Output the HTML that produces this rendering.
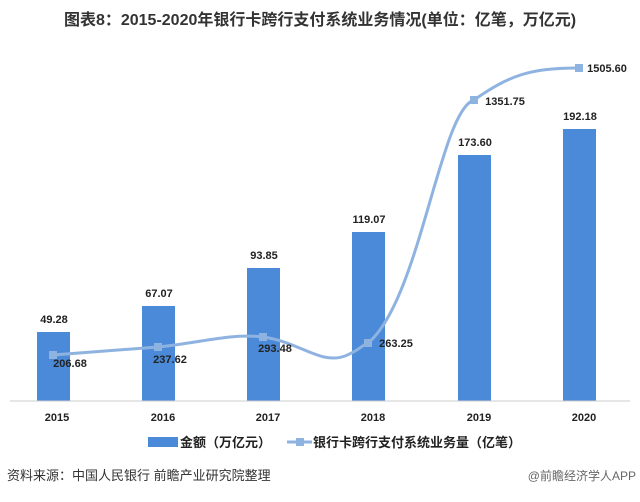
<!DOCTYPE html>
<html><head><meta charset="utf-8"><style>
body{margin:0;background:#fff;}
svg text{font-family:"Liberation Sans","Noto Sans CJK SC",sans-serif;}
</style></head><body>
<svg width="640" height="497" viewBox="0 0 640 497" xmlns="http://www.w3.org/2000/svg">
<rect width="640" height="497" fill="#fff"/>
<text x="320" y="25" text-anchor="middle" font-size="16" font-weight="bold" fill="#333">图表8：2015-2020年银行卡跨行支付系统业务情况(单位：亿笔，万亿元)</text>
<g fill="#4a8ad8">
<rect x="37" y="332" width="33" height="69"/>
<rect x="142" y="306" width="33" height="95"/>
<rect x="247" y="268" width="33" height="133"/>
<rect x="352" y="232" width="33" height="169"/>
<rect x="458" y="155" width="33" height="246"/>
<rect x="563" y="129" width="33" height="272"/>
</g>
<line x1="10" y1="401" x2="630" y2="401" stroke="#ccc"/>
<path d="M53,355 C90,352 120,350 158,347 C200,343 230,333 263,337 C300,342 320,365 345,356 C360,350 362,345 368,343 C420,300 440,110 474,100 C510,75 530,68 579,68" fill="none" stroke="#8fb3e0" stroke-width="3"/>
<g fill="#8fb3e0">
<rect x="49" y="351" width="8" height="8"/><rect x="154" y="343" width="8" height="8"/><rect x="259" y="333" width="8" height="8"/><rect x="364" y="339" width="8" height="8"/><rect x="470" y="96" width="8" height="8"/><rect x="575" y="64" width="8" height="8"/>
</g>
<g font-size="11" font-weight="bold" fill="#222" text-anchor="middle">
<text x="54" y="323">49.28</text><text x="159" y="297">67.07</text><text x="264" y="259">93.85</text><text x="369" y="223">119.07</text><text x="475" y="146">173.60</text><text x="580" y="120">192.18</text>
<text x="70" y="367">206.68</text><text x="170" y="363">237.62</text><text x="275" y="352">293.48</text><text x="396" y="347">263.25</text><text x="505" y="105">1351.75</text><text x="607" y="72">1505.60</text>
<text x="57" y="421">2015</text><text x="163" y="421">2016</text><text x="268" y="421">2017</text><text x="373" y="421">2018</text><text x="479" y="421">2019</text><text x="584" y="421">2020</text>
</g>
<rect x="148" y="437" width="30" height="10" fill="#4a8ad8"/>
<text x="180" y="447" font-size="13" font-weight="bold" fill="#222">金额（万亿元）</text>
<line x1="287" y1="442" x2="312" y2="442" stroke="#8fb3e0" stroke-width="3"/>
<rect x="296" y="438" width="8" height="8" fill="#8fb3e0"/>
<text x="313" y="447" font-size="13" font-weight="bold" fill="#222">银行卡跨行支付系统业务量（亿笔）</text>
<text x="7" y="480" font-size="13" fill="#333">资料来源：中国人民银行 前瞻产业研究院整理</text>
<text x="636" y="480" font-size="12" fill="#666" text-anchor="end">@前瞻经济学人APP</text>
</svg>
</body></html>
